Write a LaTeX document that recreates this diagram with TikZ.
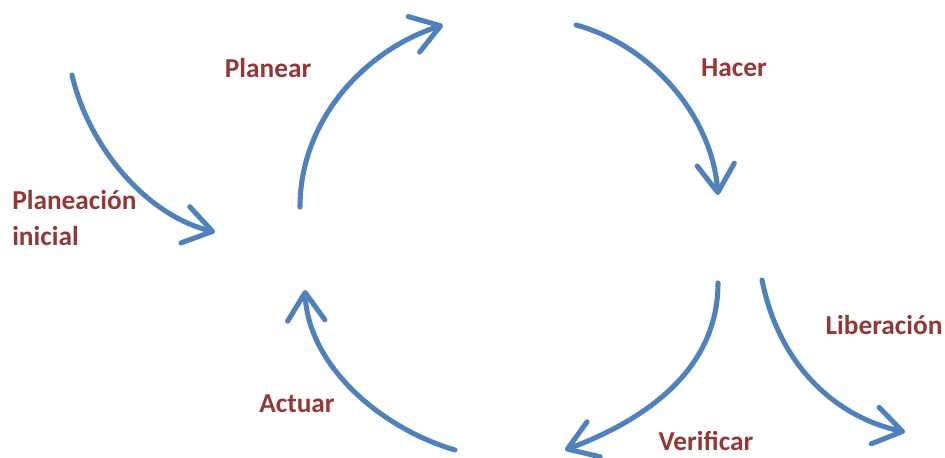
\documentclass[tikz,border=0pt]{standalone}
\usepackage{fontspec}
\setmainfont{Carlito}
\usetikzlibrary{arrows.meta}
\definecolor{ciclo}{HTML}{4F81BD}
\definecolor{etiqueta}{HTML}{953735}

\begin{document}
\begin{tikzpicture}[x=0.75pt,y=-0.75pt,
  flecha/.style={draw=ciclo, line width=3.8pt, line cap=round,
    -{Straight Barb[length=21pt,width=28pt,round]}},
  rotulo/.style={text=etiqueta, font=\bfseries\fontsize{20.5}{27}\selectfont, inner sep=0pt, align=left}]
\useasboundingbox (0,0) rectangle (945,457);
% extremos de las flechas
\coordinate (inicioA) at (72,75);
\coordinate (finA) at (215,232);
\coordinate (inicioP) at (300,207);
\coordinate (finP) at (443,25);
\coordinate (inicioH) at (576,25);
\coordinate (finH) at (718,195);
\coordinate (inicioV) at (718,283);
\coordinate (finV) at (565,450);
\coordinate (inicioC) at (455,450);
\coordinate (finC) at (305,290);
\coordinate (inicioL) at (762,280);
\coordinate (finL) at (905,432);
% flechas
\draw [flecha] (inicioA) .. controls (88,145) and (145,215) .. (finA);
\draw [flecha] (inicioP) .. controls (300,120) and (365,50) .. (finP);
\draw [flecha] (inicioH) .. controls (650,45) and (712,115) .. (finH);
\draw [flecha] (inicioV) .. controls (718,370) and (645,420) .. (finV);
\draw [flecha] (inicioC) .. controls (380,428) and (308,365) .. (finC);
\draw [flecha] (inicioL) .. controls (780,370) and (840,418) .. (finL);
% rotulos
\node [rotulo] (planear) at (268,68) {Planear};
\node [rotulo] (hacer) at (734,68) {Hacer};
\node [rotulo, anchor=west] (inicial) at (12,218) {Planeación\\inicial};
\node [rotulo] (liberacion) at (884,325) {Liberación};
\node [rotulo] (actuar) at (297,404) {Actuar};
\node [rotulo] (verificar) at (706,441) {Verificar};
\end{tikzpicture}
\end{document}
